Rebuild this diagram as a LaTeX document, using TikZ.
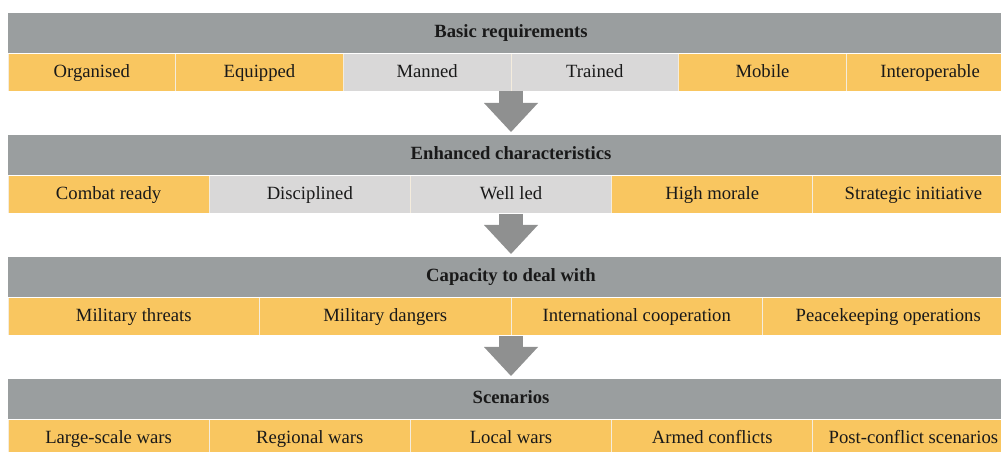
\documentclass[tikz,border=0pt]{standalone}
\usepackage{fontspec}
\setmainfont{Liberation Serif}
\usetikzlibrary{arrows.meta}
\definecolor{bandgray}{HTML}{9A9E9F}
\definecolor{cellorange}{HTML}{F9C660}
\definecolor{celllight}{HTML}{D9D8D8}
\definecolor{arrowgray}{HTML}{8F9090}
\definecolor{rowline}{HTML}{F4ECDD}

\begin{document}
\begin{tikzpicture}[x=0.75pt,y=-0.75pt,
		every node/.style={inner sep=0pt,outer sep=0pt,text=black!90,
			font=\fontsize{14}{16}\selectfont,text height=0.9em,text depth=0.15em},
		bigarrow/.style={arrowgray,line width=24*0.75pt,
			-{Triangle[width=54*0.75pt,length=29*0.75pt,line width=0pt]}}]
		\useasboundingbox (0,0) rectangle (1001,452);
		\newcommand\headband[3]{%
			\node[fill=bandgray,anchor=north west,minimum width=1006*0.75pt,minimum height=40*0.75pt,
				font=\fontsize{14}{16}\selectfont\bfseries] (h#1) at (8,#2) {#3};
			\node[fill=rowline,anchor=north west,minimum width=1006*0.75pt,minimum height=37*0.75pt] (r#1) at (8,{#2+41}) {};
		}
		\newcommand\stripcell[6]{%
			\node[fill=#5,anchor=north west,minimum width={(#4-1)*0.75pt},minimum height=37*0.75pt]
				(c#1) at ({8+#3*#4+0.5},{#2+41}) {#6};
		}

		% orange = strong, light = weak
		% basic requirements
		\headband{1}{13}{Basic requirements};
		\stripcell{11}{13}{0}{167.67}{cellorange}{Organised};
		\stripcell{12}{13}{1}{167.67}{cellorange}{Equipped};
		\stripcell{13}{13}{2}{167.67}{celllight}{Manned};
		\stripcell{14}{13}{3}{167.67}{celllight}{Trained};
		\stripcell{15}{13}{4}{167.67}{cellorange}{Mobile};
		\stripcell{16}{13}{5}{167.67}{cellorange}{Interoperable};

		% enhanced characteristics
		\headband{2}{135}{Enhanced characteristics};
		\stripcell{21}{135}{0}{201.2}{cellorange}{Combat ready};
		\stripcell{22}{135}{1}{201.2}{celllight}{Disciplined};
		\stripcell{23}{135}{2}{201.2}{celllight}{Well led};
		\stripcell{24}{135}{3}{201.2}{cellorange}{High morale};
		\stripcell{25}{135}{4}{201.2}{cellorange}{Strategic initiative};

		% capacity
		\headband{3}{257}{Capacity to deal with};
		\stripcell{31}{257}{0}{251.5}{cellorange}{Military threats};
		\stripcell{32}{257}{1}{251.5}{cellorange}{Military dangers};
		\stripcell{33}{257}{2}{251.5}{cellorange}{International cooperation};
		\stripcell{34}{257}{3}{251.5}{cellorange}{Peacekeeping operations};

		% scenarios
		\headband{4}{379}{Scenarios};
		\stripcell{41}{379}{0}{201.2}{cellorange}{Large-scale wars};
		\stripcell{42}{379}{1}{201.2}{cellorange}{Regional wars};
		\stripcell{43}{379}{2}{201.2}{cellorange}{Local wars};
		\stripcell{44}{379}{3}{201.2}{cellorange}{Armed conflicts};
		\stripcell{45}{379}{4}{201.2}{cellorange}{Post-conflict scenarios};

		% arrows
		\draw[bigarrow] (r1.south) -- ([yshift=2.25pt]h2.north);
		\draw[bigarrow] ([yshift=-1pt]r2.south) -- ([yshift=2.25pt]h3.north);
		\draw[bigarrow] ([yshift=-1pt]r3.south) -- ([yshift=2.25pt]h4.north);
	\end{tikzpicture}
\end{document}
